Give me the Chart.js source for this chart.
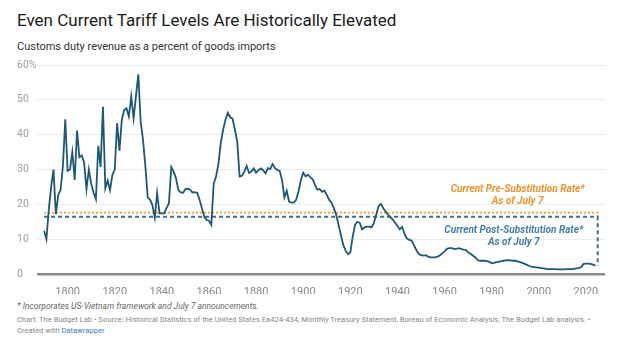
<!DOCTYPE html>
<html><head><meta charset="utf-8">
<script src="https://cdn.jsdelivr.net/npm/chart.js@4"></script>
<style>
html,body{margin:0;padding:0;background:#fff;width:624px;height:344px;overflow:hidden;font-family:Roboto,sans-serif;}
.t{position:absolute;white-space:nowrap;line-height:1;}
#title{left:17px;top:12px;font-size:17px;color:#1a1a1a;}
#sub{left:17px;top:41px;font-size:11px;color:#333;}
#note{left:17px;top:302px;font-size:8.5px;color:#666;font-style:italic;}
#src{left:17px;top:314px;font-size:7.6px;color:#888;line-height:11px;}
#src span{color:#3b7bbf;}
#wrap{position:absolute;left:0;top:55px;width:624px;height:239px;}
</style></head>
<body>
<div class="t" id="title">Even Current Tariff Levels Are Historically Elevated</div>
<div class="t" id="sub">Customs duty revenue as a percent of goods imports</div>
<div id="wrap"><canvas id="c"></canvas></div>
<div class="t" id="note">* Incorporates US-Vietnam framework and July 7 announcements.</div>
<div class="t" id="src">Chart: The Budget Lab • Source: Historical Statistics of the United States Ea424-434, Monthly Treasury Statement, Bureau of Economic Analysis, The Budget Lab analysis. •<br>Created with <span>Datawrapper</span></div>
<script>
const firstYear = 1790;
const dutyRate = [
 12.4,10.0,18.5,25.0,30.0,17.2,22.7,24.1,31.0,44.4,
 29.6,30.0,35.0,27.0,41.2,33.5,34.0,32.0,24.3,30.0,
 26.0,23.4,21.5,36.8,30.7,48.0,24.6,26.8,24.1,28.4,
 30.0,43.3,35.4,44.3,47.1,47.6,45.2,51.0,44.7,51.0,
 57.3,43.8,38.5,31.0,22.0,21.3,19.8,16.2,23.2,17.4,
 17.4,17.4,19.0,20.3,30.7,29.4,27.5,24.1,23.4,23.3,
 24.4,24.5,24.2,23.4,23.5,23.3,21.3,18.9,16.5,15.5,
 15.3,14.1,25.9,28.0,31.6,37.6,41.4,44.3,46.3,45.0,
 44.6,41.4,38.0,28.0,28.2,29.4,31.0,29.0,29.4,30.3,
 29.1,29.8,30.3,29.8,28.9,30.4,30.1,31.6,30.4,29.9,
 29.6,27.0,22.0,23.9,20.8,20.5,20.5,21.3,23.7,27.0,
 29.1,28.0,28.5,27.8,27.2,25.6,24.2,24.4,23.6,23.9,
 22.7,21.3,20.5,18.9,17.0,14.1,11.2,8.4,6.7,5.7,
 6.2,10.7,14.1,15.0,14.7,12.8,13.4,13.6,13.6,13.4,
 14.7,17.0,19.5,20.1,18.9,17.9,17.0,16.3,15.6,14.7,
 13.8,12.8,13.5,11.5,10.2,9.8,9.6,8.3,6.9,5.8,
 5.4,5.3,5.4,5.0,4.8,4.8,4.8,5.0,5.3,5.9,
 6.5,7.2,7.4,7.4,7.2,7.2,7.4,7.2,7.0,6.9,
 6.2,5.8,5.3,4.8,4.0,3.8,3.8,3.8,3.7,3.5,
 3.1,3.2,3.4,3.5,3.7,3.8,3.9,4.0,3.9,3.8,
 3.8,3.6,3.4,3.2,2.9,2.6,2.3,2.1,2.0,1.9,
 1.8,1.7,1.6,1.5,1.4,1.4,1.4,1.4,1.3,1.3,
 1.3,1.3,1.4,1.4,1.4,1.5,1.6,1.7,2.0,2.9,
 3.0,3.0,2.9,2.7,2.4
];
const years = dutyRate.map((_, i) => firstYear + i);
const rateYear = 2025;
const preSubstitutionRate = 17.6;
const postSubstitutionRate = 16.4;
const xTickValues = [1800,1820,1840,1860,1880,1900,1920,1940,1960,1980,2000,2020];
const yTickValues = [0,10,20,30,40,50,60];
const yTickLabels = ['0','10','20','30','40','50','60%'];
const annotations = [
  {lines:['Current Pre-Substitution Rate*','As of July 7'], year:1991, value:24.4, color:'#f0912c'},
  {lines:['Current Post-Substitution Rate*','As of July 7'], year:1989.4, value:12.4, color:'#3f7fab'}
];

const linePoints = years.map((yr, i) => ({x: yr, y: dutyRate[i]}));
const lastValue = dutyRate[dutyRate.length - 1];
const prePoints = [{x: firstYear, y: preSubstitutionRate}, {x: rateYear, y: preSubstitutionRate}, {x: rateYear, y: postSubstitutionRate}];
const postPoints = [{x: firstYear, y: postSubstitutionRate}, {x: rateYear, y: postSubstitutionRate}, {x: rateYear, y: lastValue}];

const annotPlugin = {
  id: 'annot',
  afterDatasetsDraw(chart) {
    const {ctx, scales: {x, y}} = chart;
    ctx.save();
    ctx.font = 'italic bold 10px Roboto';
    ctx.textAlign = 'center';
    ctx.textBaseline = 'middle';
    annotations.forEach(a => {
      ctx.fillStyle = a.color;
      a.lines.forEach((l, i) => ctx.fillText(l, x.getPixelForValue(a.year), y.getPixelForValue(a.value) + i * 12));
    });
    ctx.restore();
  }
};

new Chart(document.getElementById('c'), {
  type: 'line',
  data: {
    datasets: [
      {data: linePoints, borderColor: '#1d5878', borderWidth: 1.8, pointRadius: 0, tension: 0, order: 0},
      {data: postPoints, borderColor: '#3f6f8c', borderWidth: 2, borderDash: [4, 3], pointRadius: 0, order: 1},
      {data: prePoints, borderColor: '#f6a54c', borderWidth: 2, borderDash: [2, 2], pointRadius: 0, order: 2}
    ]
  },
  options: {
    responsive: true, maintainAspectRatio: false, animation: false,
    layout: {padding: {left: 17, right: 19, top: 10, bottom: 0}},
    plugins: {legend: {display: false}, tooltip: {enabled: false}},
    scales: {
      x: {
        type: 'linear', min: 1787, max: 2028.1,
        afterBuildTicks: s => { s.ticks = xTickValues.map(v => ({value: v})); },
        afterFit: s => { s.height = 20; },
        grid: {display: false}, border: {display: false},
        ticks: {color: '#888', font: {family: 'Roboto', size: 11}, padding: 4, maxRotation: 0, autoSkip: false, callback: v => String(v)}
      },
      y: {
        min: 0, max: 60,
        afterBuildTicks: s => { s.ticks = yTickValues.map(v => ({value: v})); },
        afterFit: s => { s.width = 20; },
        border: {display: false},
        grid: {drawTicks: false, color: c => c.tick.value === 0 ? '#8a8a8a' : '#ececec', lineWidth: c => c.tick.value === 0 ? 2.5 : 1},
        ticks: {crossAlign: 'far', color: '#a0a0a0', font: {family: 'Roboto', size: 10.5}, padding: 0,
          callback: v => yTickLabels[yTickValues.indexOf(v)]}
      }
    }
  },
  plugins: [annotPlugin]
});
</script>
</body></html>
